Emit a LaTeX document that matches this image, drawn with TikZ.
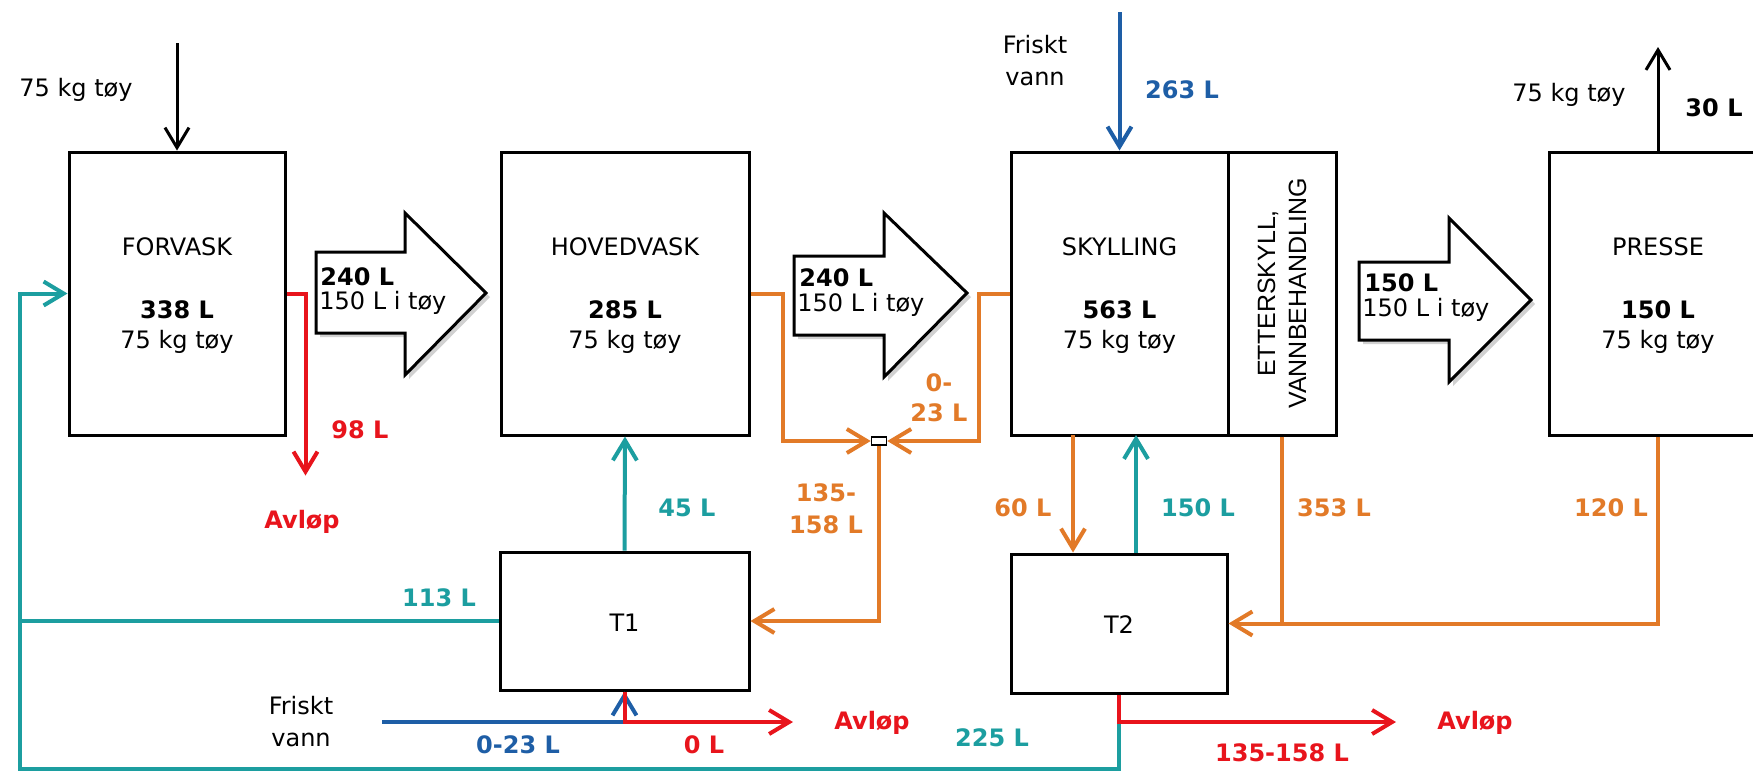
\documentclass[tikz,border=0pt]{standalone}
\usepackage{fontspec}
\setmainfont{DejaVu Sans}
\newfontfamily\arialf{Liberation Sans}
\usetikzlibrary{arrows.meta,calc}
\definecolor{cred}{RGB}{232,20,28}
\definecolor{corange}{RGB}{226,122,40}
\definecolor{cteal}{RGB}{28,158,160}
\definecolor{cblue}{RGB}{30,94,166}
\begin{document}
\begin{tikzpicture}[x=0.5pt,y=-0.5pt,
  box/.style={draw,line width=1.5pt,fill=white,inner sep=0pt},
  txt/.style={font=\fontsize{12}{16}\selectfont,inner sep=0pt,align=center},
  btxt/.style={font=\bfseries\fontsize{12}{16}\selectfont,inner sep=0pt,align=center},
  flow/.style={line width=2pt},
  tip/.style={-{Straight Barb[length=10pt,width=12pt]}},
  fat/.style={draw,line width=1.5pt,fill=white,line join=miter},
  fatshadow/.style={fill=black!18,draw=none},
  junc/.style={draw,line width=0.8pt,fill=white,minimum width=7.5pt,minimum height=4pt,inner sep=0pt}]
\clip (0,0) rectangle (1753,772);
\fill[white] (0,0) rectangle (1753,772);

% process boxes
\node[box,minimum width=108pt,minimum height=141.5pt] (forvask) at (177,293.5) {};
\node[box,minimum width=124pt,minimum height=141.5pt] (hoved) at (625,293.5) {};
\node[box,minimum width=108.5pt,minimum height=141.5pt] (skyll) at (1119.5,293.5) {};
\node[box,minimum width=54pt,minimum height=141.5pt] (etter) at (1282,293.5) {};
\node[box,minimum width=109pt,minimum height=141.5pt] (presse) at (1658,293.5) {};
\node[box,minimum width=124.5pt,minimum height=69pt] (t1) at (624.5,621) {};
\node[box,minimum width=108pt,minimum height=69.5pt] (t2) at (1119,623.5) {};
\node[junc] (jn) at (879,441) {};

% fat arrows
\fill[fatshadow] (320,256) -- (409,256) -- (409,217) -- (490,297) -- (409,379) -- (409,337) -- (320,337) -- cycle;
\draw[fat] (316,252) -- (405,252) -- (405,213) -- (486,293) -- (405,375) -- (405,333) -- (316,333) -- cycle;
\fill[fatshadow] (798,260) -- (888,260) -- (888,217) -- (971,297) -- (888,381) -- (888,339) -- (798,339) -- cycle;
\draw[fat] (794,256) -- (884,256) -- (884,213) -- (967,293) -- (884,377) -- (884,335) -- (794,335) -- cycle;
\fill[fatshadow] (1363,266) -- (1453,266) -- (1453,222) -- (1535,304) -- (1453,386) -- (1453,344) -- (1363,344) -- cycle;
\draw[fat] (1359,262) -- (1449,262) -- (1449,218) -- (1531,300) -- (1449,382) -- (1449,340) -- (1359,340) -- cycle;

% free ends
\coordinate (ftop) at (177,43);
\coordinate (ptop) at (1658,47);
\coordinate (btop) at (1119.5,12);
\coordinate (fv1) at (382,722);
\coordinate (av1) at (793,722);
\coordinate (av2) at (1396,722);
\coordinate (bl) at (20,769);
\coordinate (o4) at (1073,435);
\coordinate (tl2) at (1136,435);

% black
\draw[line width=1.5pt,tip] (ftop) -- (forvask.north);
\draw[line width=1.5pt,tip] (presse.north) -- (ptop);
% blue
\draw[flow,cblue,tip] (btop) -- (skyll.north);
\draw[flow,cblue,tip] (fv1) -| (t1.south);
% teal
\draw[flow,cteal,tip] (t1.north) -- (hoved.south);
\draw[flow,cteal,tip] (t2.north -| tl2) -- (tl2);
\draw[flow,cteal] (t1.west) -- (t1.west -| bl);
\draw[flow,cteal,tip] (t2.south) |- (bl) |- (forvask.west);
% red
\draw[flow,cred,tip] (forvask.east) -- ++(19,0) -- ++(0,182);
\draw[flow,cred,tip] (t1.south) |- (av1);
\draw[flow,cred,tip] (t2.south) |- (av2);
% orange
\draw[flow,corange,tip] (hoved.east) -- ++(32,0) |- (jn.west);
\draw[flow,corange,tip] (skyll.west) -- ++(-31,0) |- (jn.east);
\draw[flow,corange,tip] (jn.south) |- (t1.east);
\draw[flow,corange,tip] (o4) -- (o4 |- t2.north);
\draw[flow,corange,tip] (etter.south) |- (t2.east);
\draw[flow,corange] (presse.south) |- (etter.south |- t2.east);
\node[junc] (jn2) at (879,441) {};

% box texts
\node[txt] (lf1) at (177,247) {FORVASK};
\node[btxt] (lf2) at (177,310) {338 L};
\node[txt] (lf3) at (177,342) {75 kg tøy};
\node[txt] (lh1) at (625,247) {HOVEDVASK};
\node[btxt] (lh2) at (625,310) {285 L};
\node[txt] (lh3) at (625,342) {75 kg tøy};
\node[txt] (ls1) at (1119.5,247) {SKYLLING};
\node[btxt] (ls2) at (1119.5,310) {563 L};
\node[txt] (ls3) at (1119.5,342) {75 kg tøy};
\node[txt] (lp1) at (1658,247) {PRESSE};
\node[btxt] (lp2) at (1658,310) {150 L};
\node[txt] (lp3) at (1658,342) {75 kg tøy};
\node[font=\arialf\fontsize{12.5}{15.5}\selectfont,inner sep=0pt,align=center,rotate=90] (le) at (1282,293.5) {ETTERSKYLL,\\VANNBEHANDLING};
\node[txt] (lt1) at (624.5,623) {T1};
\node[txt] (lt2) at (1119,625) {T2};

% fat arrow texts
\node[btxt,anchor=west] (a1a) at (320,277) {240 L};
\node[txt,anchor=west] (a1b) at (319,303) {150 L i tøy};
\node[btxt,anchor=west] (a2a) at (799,278) {240 L};
\node[txt,anchor=west] (a2b) at (797,305) {150 L i tøy};
\node[btxt,anchor=west] (a3a) at (1364,283) {150 L};
\node[txt,anchor=west] (a3b) at (1362,310) {150 L i tøy};

% other labels
\node[txt] (k1) at (76,90) {75 kg tøy};
\node[txt] (k2) at (1569,95) {75 kg tøy};
\node[btxt] (k3) at (1714,108) {30 L};
\node[txt] (fr1) at (1035,61) {Friskt\\vann};
\node[btxt,text=cblue] (b263) at (1182,90) {263 L};
\node[btxt,text=cred] (r98) at (360,430) {98 L};
\node[btxt,text=cred] (rav1) at (302,522) {Avløp};
\node[btxt,text=cteal] (t45) at (687,508) {45 L};
\node[btxt,text=cteal] (t113) at (439,598) {113 L};
\node[btxt,text=corange] (o135) at (826,509) {135-\\158 L};
\node[btxt,text=corange,font=\bfseries\fontsize{12}{15}\selectfont] (o023) at (939,398) {0-\\23 L};
\node[btxt,text=corange] (o60) at (1023,508) {60 L};
\node[btxt,text=cteal] (t150) at (1198,508) {150 L};
\node[btxt,text=corange] (o353) at (1334,508) {353 L};
\node[btxt,text=corange] (o120) at (1611,508) {120 L};
\node[txt] (fr2) at (301,722) {Friskt\\vann};
\node[btxt,text=cblue] (b023) at (518,745) {0-23 L};
\node[btxt,text=cred] (r0) at (704,745) {0 L};
\node[btxt,text=cred] (rav2) at (872,723) {Avløp};
\node[btxt,text=cteal] (t225) at (992,738) {225 L};
\node[btxt,text=cred] (rav3) at (1475,723) {Avløp};
\node[btxt,text=cred] (r135) at (1282,753) {135-158 L};
\end{tikzpicture}
\end{document}
